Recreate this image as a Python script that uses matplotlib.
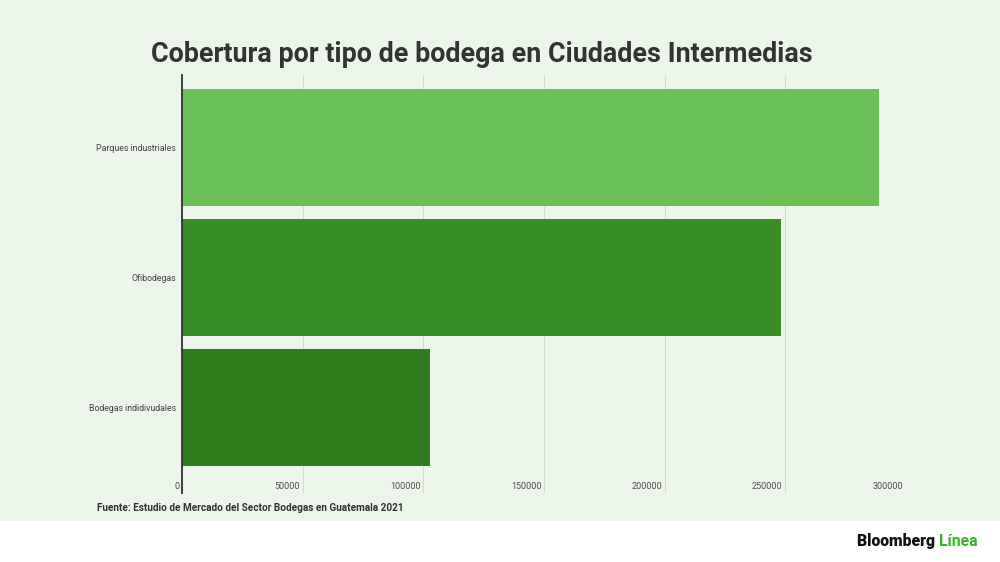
import matplotlib.pyplot as plt
import matplotlib.transforms as mtransforms
from matplotlib.patches import Rectangle

plt.rcParams['font.family'] = ['Roboto', 'DejaVu Sans']

categorias = ['Parques industriales', 'Ofibodegas', 'Bodegas indidivudales']
valores = [289000, 248300, 102800]
colores = ['#6BC158', '#378E25', '#2F7C1F']
ticks_x = [0, 50000, 100000, 150000, 200000, 250000, 300000]

titulo = 'Cobertura por tipo de bodega en Ciudades Intermedias'
fuente = 'Fuente: Estudio de Mercado del Sector Bodegas en Guatemala 2021'

fig = plt.figure(figsize=(10, 5.62), dpi=100)
fig.patch.set_facecolor('white')
bg = '#ECF5E9'
fig.patches.append(Rectangle((0, 41 / 562), 1, 1 - 41 / 562, transform=fig.transFigure,
                             facecolor=bg, edgecolor='none', zorder=-10))

# axes: x 182..906, y 75..493 px
ax = fig.add_axes([182 / 1000, 1 - 493 / 562, 724 / 1000, 418 / 562])
ax.set_facecolor('none')

pos = list(range(len(categorias)))
ax.barh(pos, valores, height=0.9, color=colores, zorder=2)
ax.set_xlim(0, 300000)
ax.set_ylim(2.658, -0.558)

ax.set_yticks(pos)
ax.set_yticklabels(categorias, fontsize=6.3, color='#444444')
ax.tick_params(axis='y', length=0, pad=4.3)

ax.set_xticks(ticks_x)
ax.set_xticklabels([])
ax.tick_params(axis='x', length=0)
ax.grid(axis='x', color='#D3DBD0', linewidth=0.8, zorder=1)
ax.set_axisbelow(True)

trans = mtransforms.blended_transform_factory(ax.transData, ax.transAxes)
for t in ticks_x:
    ax.text(t - 1100, 0.004, str(t), transform=trans, ha='right', va='bottom',
            fontsize=6.5, color='#505050')

for s in ['top', 'right', 'bottom']:
    ax.spines[s].set_visible(False)
ax.spines['left'].set_color('#333333')
ax.spines['left'].set_linewidth(1.3)
ax.spines['left'].set_zorder(3)

fig.text(0.482, 1 - 55 / 562, titulo, ha='center', va='center',
         fontsize=19.4, fontweight='bold', color='#333333')
fig.text(0.097, 1 - 508 / 562, fuente, ha='left', va='center',
         fontsize=7.2, fontweight='bold', color='#333333')

t1 = fig.text(0.857, 1 - 541 / 562, 'Bloomberg ', ha='left', va='center',
              fontsize=11.3, fontweight='heavy', color='#111111')
fig.canvas.draw()
bb = t1.get_window_extent()
fig.text(bb.x1 / 1000, 1 - 541 / 562, 'Línea', ha='left', va='center',
         fontsize=11.3, fontweight='bold', color='#3BB02C')

fig.savefig('out.png', dpi=100, facecolor=fig.get_facecolor())
